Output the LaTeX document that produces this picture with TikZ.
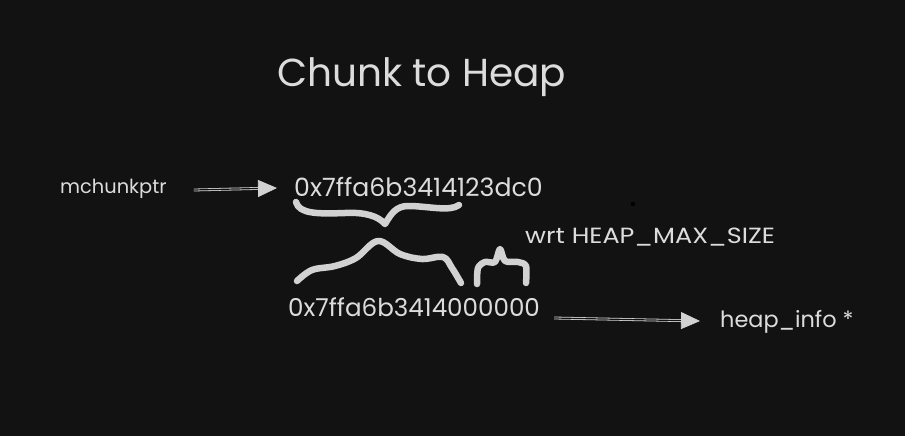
\documentclass[tikz,border=0pt]{standalone}
\usepackage{fontspec}
\setmainfont{Poppins}
\usetikzlibrary{arrows.meta}
\definecolor{bg}{HTML}{121212}
\definecolor{ink}{HTML}{DCDCDC}
\definecolor{stroke}{HTML}{D2D2D2}
\tikzset{
  txt/.style={text=ink, inner sep=0pt, anchor=west},
  brace/.style={draw=stroke, line width=6.5pt, line cap=round, line join=round},
  arr/.style={draw=stroke, double=bg, double distance=1.2pt, line width=0.8pt,
    -{Triangle[length=19pt,width=17pt,fill=stroke]}},
}
\begin{document}
\begin{tikzpicture}[x=1pt,y=-1pt]
\fill[bg] (0,0) rectangle (905,436);
\useasboundingbox (0,0) rectangle (905,436);
\node[txt, font=\fontsize{39}{44}\selectfont] (title) at (277,77) {Chunk to Heap};
\node[txt, font=\fontsize{19.4}{22}\selectfont] (m) at (60,189) {mchunkptr};
\node[txt, font=\fontsize{25.2}{28}\selectfont] (h1) at (294,187) {0x7ffa6b3414123dc0};
\node[txt, font=\fontsize{24.6}{28}\selectfont] (h2) at (288,307) {0x7ffa6b3414000000};
\node[txt, font=\fontsize{22}{26}\selectfont] (w) at (525,237) {\scalebox{1.16}[1]{wrt HEAP\_MAX\_SIZE}};
\node[txt, font=\fontsize{22.4}{26}\selectfont] (hi) at (720,322) {heap\_info *};
\fill[stroke] (633,204) circle (2.2pt);
\draw[arr] ([xshift=27pt,yshift=-1pt]m.east) -- ([xshift=-17pt,yshift=-1pt]h1.west);
\draw[arr] ([xshift=14pt,yshift=-11pt]h2.east) -- ([xshift=-20pt,yshift=1pt]hi.west);
\draw[brace] (296,202) .. controls (299,214) and (318,214) .. (345,213)
  .. controls (365,212) and (378,216) .. (385,224)
  .. controls (391,214) and (396,206) .. (408,206)
  .. controls (428,206) and (450,212) .. (459,205);
\draw[brace] plot[smooth, tension=0.6] coordinates {(297,281) (312,270) (335,266) (356,258) (378,241) (400,254) (422,259) (443,257) (452,268) (461,283)};
\draw[brace] plot[smooth, tension=0.5] coordinates {(477,284) (478,268) (485,262) (495,262) (500,249) (505,261) (518,262) (526,266) (526,283)};
\end{tikzpicture}
\end{document}
